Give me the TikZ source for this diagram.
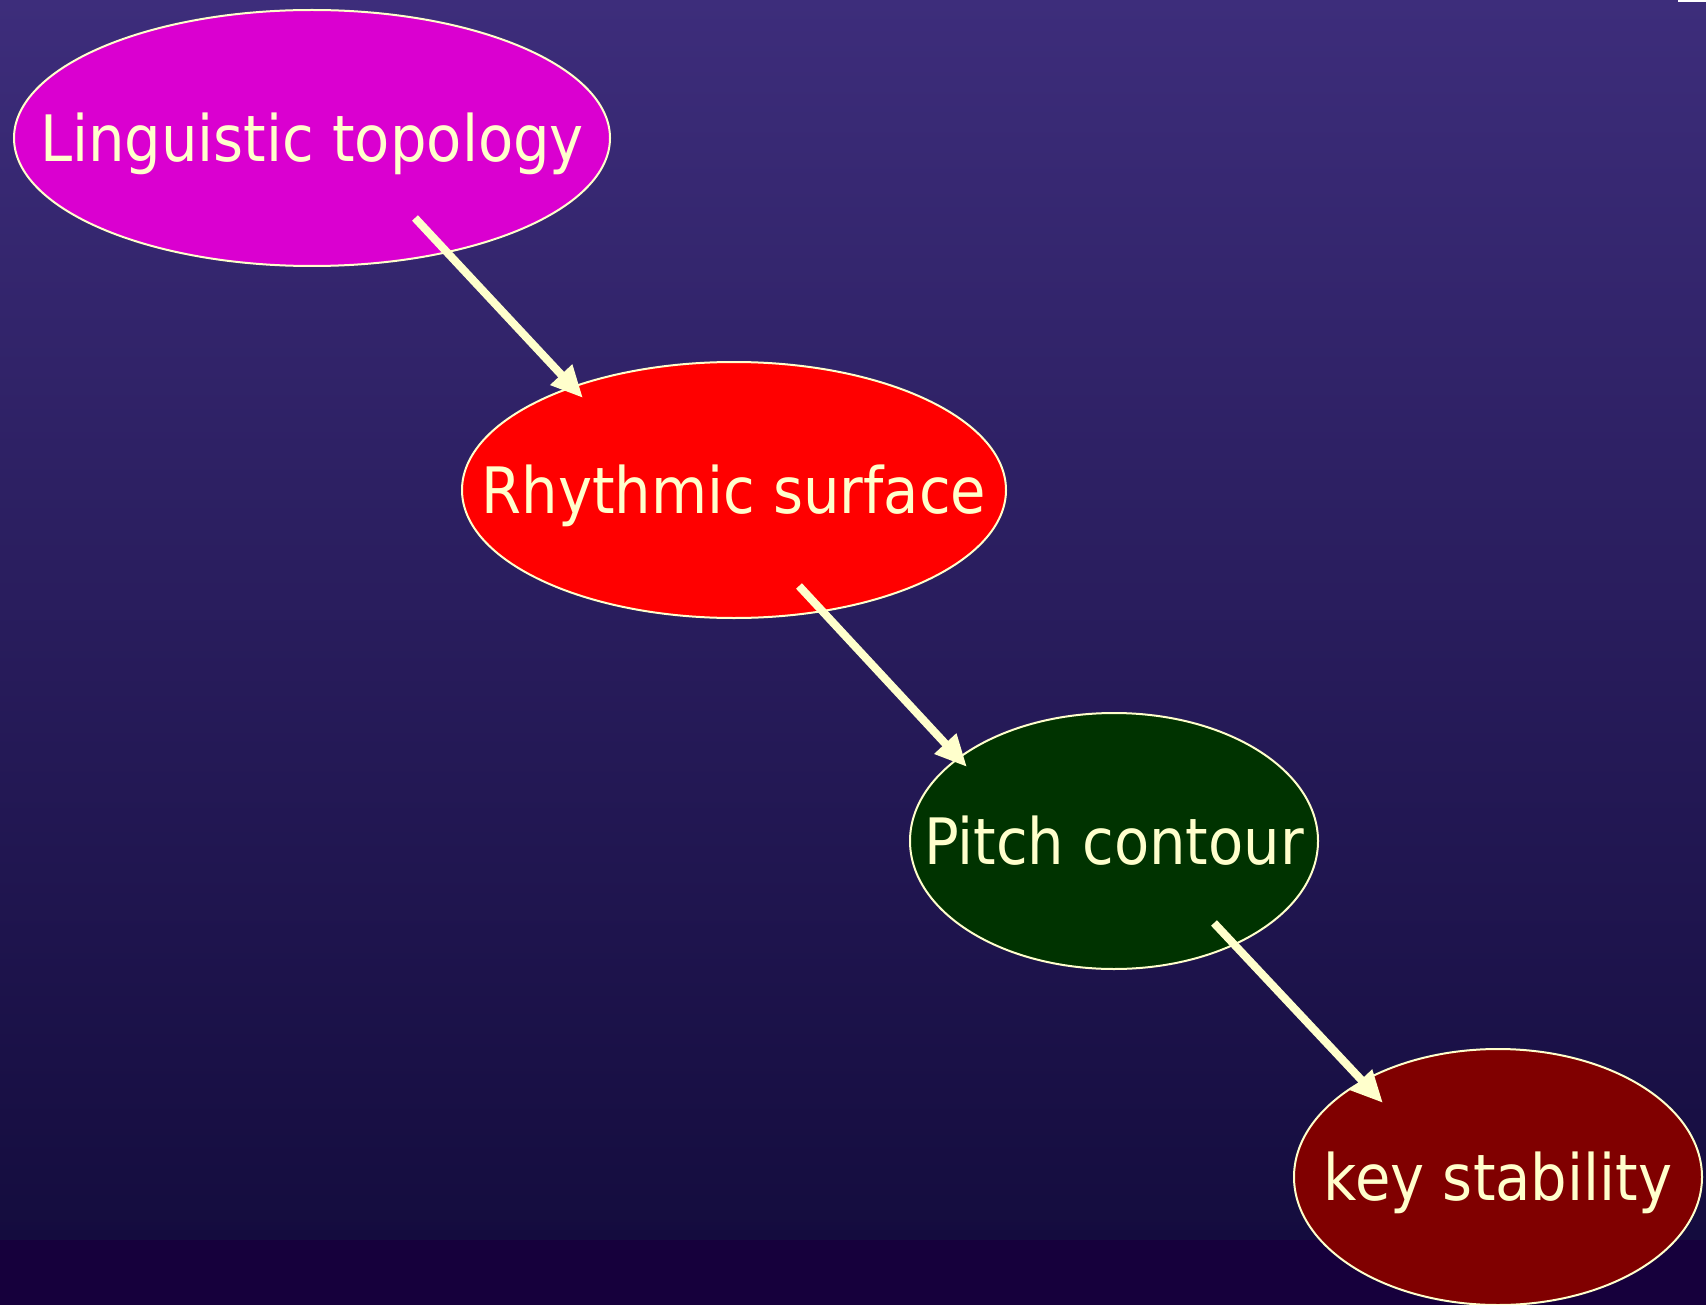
\documentclass[tikz,border=0pt]{standalone}
\usepackage{fontspec}
\setmainfont{DejaVu Sans}[FakeStretch=0.9]
\usetikzlibrary{arrows.meta,shapes.geometric}
\definecolor{bgtop}{RGB}{61,45,123}
\definecolor{bgbot}{RGB}{20,12,62}
\definecolor{bgband}{RGB}{22,0,60}
\definecolor{ink}{RGB}{255,255,204}
\definecolor{cmag}{RGB}{218,0,208}
\definecolor{cred}{RGB}{255,0,0}
\definecolor{cgreen}{RGB}{0,51,0}
\definecolor{cmaroon}{RGB}{128,0,0}
% label set in a zero-size box so the ellipse keeps its given size
\newcommand{\bubbletext}[1]{\makebox[0pt]{\raisebox{-0.37em}[0pt][0pt]{#1}}}
\tikzset{
  bubble/.style={ellipse, draw=ink, line width=1.5, text=ink, inner sep=0pt,
    font=\fontsize{48}{58}\selectfont, minimum height=256*0.75pt},
  link/.style={draw=ink, line width=6pt,
    -{Triangle[length=24pt,width=21pt]}}
}
\begin{document}
\begin{tikzpicture}[x=0.75pt,y=-0.75pt]
  % backdrop: vertical gradient and darker footer band
  \useasboundingbox (0,0) rectangle (1706,1305);
  \shade[top color=bgtop, bottom color=bgbot] (0,0) rectangle (1706,1240);
  \fill[bgband] (0,1240) rectangle (1706,1305);
  \fill[white] (1678,0) rectangle (1706,2);

  % concept bubbles
  \node[bubble, fill=cmag, minimum width=596*0.75pt]
    (ling) at (312,138) {\bubbletext{Linguistic topology}};
  \node[bubble, fill=cred, minimum width=544*0.75pt]
    (rhy) at (734,490) {\bubbletext{Rhythmic surface}};
  \node[bubble, fill=cgreen, minimum width=408*0.75pt]
    (pitch) at (1114,841) {\bubbletext{Pitch contour}};
  \node[bubble, fill=cmaroon, minimum width=408*0.75pt]
    (key) at (1498,1177) {\bubbletext{key stability}};

  % arrows between bubbles
  \coordinate (a1s) at (415,218); \coordinate (a1e) at (583,398);
  \coordinate (a2s) at (799,586); \coordinate (a2e) at (967,767);
  \coordinate (a3s) at (1214,923); \coordinate (a3e) at (1383,1103);
  \draw[link] (a1s) -- (a1e);
  \draw[link] (a2s) -- (a2e);
  \draw[link] (a3s) -- (a3e);
\end{tikzpicture}
\end{document}
